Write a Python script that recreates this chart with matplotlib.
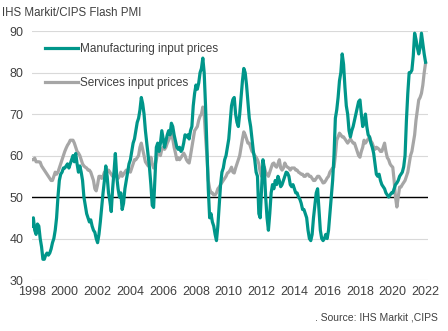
import numpy as np
import matplotlib.pyplot as plt

plt.rcParams['font.family'] = ['Liberation Sans', 'DejaVu Sans']

# monthly values, Jan 1998 .. Jan 2022
manufacturing = [
    43, 45, 42, 41, 43.5, 43, 40, 38, 35, 35, 36, 36.5,          # 1998
    36, 36.5, 37.5, 39, 40, 42, 45, 50, 54, 55.5, 56, 57,        # 1999
    57, 57.5, 58, 57, 58, 59, 60, 58.5, 60.5, 58, 56, 57.5,      # 2000
    56, 54, 50, 48, 46, 45, 44, 44.5, 43, 42, 41.5, 40,          # 2001
    39, 41, 44, 47.5, 51, 54, 57.5, 55, 51, 49, 46.5, 52,        # 2002
    56, 60.5, 55, 52, 50, 51, 47, 48.5, 52, 54, 56, 58,          # 2003
    59, 61, 63, 64, 66, 68, 69, 71, 74, 72.5, 70, 66,            # 2004
    63, 60, 57, 53, 48, 47.5, 55, 62, 63, 61, 63, 66,            # 2005
    64, 62, 63.5, 65, 66, 65, 67.8, 67, 65, 63.5, 62, 61.5,      # 2006
    62, 61, 61.5, 63, 65, 64.5, 65, 64, 66, 67, 72, 75,          # 2007
    77, 76, 77.5, 80, 81, 83.5, 80, 72, 62, 52, 45, 46,          # 2008
    44, 43, 41, 39.5, 43, 48, 53, 56, 57, 59, 60, 62,            # 2009
    64, 68, 72, 73.5, 74, 70, 68, 67, 70, 74, 78, 81,            # 2010
    80, 77, 73, 69, 67, 64, 61, 59, 56, 55, 46, 45,              # 2011
    52, 59, 57, 50, 45, 42, 46, 51, 53, 52, 54, 53,              # 2012
    55, 54, 52.5, 53, 54, 55, 56, 55.8, 55, 53, 52.5, 53,        # 2013
    52, 51, 51, 50, 49.5, 48.5, 47, 47, 46, 45, 42, 40,          # 2014
    39.5, 41, 45, 48, 51, 52, 47, 42, 40, 39.5, 40, 41,          # 2015
    40, 42, 46, 50, 54, 60, 69, 71, 74, 78, 80, 84.5,            # 2016
    82, 76.5, 72, 70, 66, 64.5, 66, 67, 68.5, 70, 71.5, 73,      # 2017
    73.4, 70, 67, 68, 70, 67, 65, 64.5, 63, 62, 60.6, 58,        # 2018
    55.5, 55, 55.5, 54, 53, 52.5, 52, 51, 50.5, 50, 50.5, 51,    # 2019
    51, 52, 53, 53.4, 54, 55, 55.5, 56, 57.3, 60, 68.5, 75,      # 2020
    80, 80, 80.6, 84, 89.5, 88, 86, 84.5, 86, 89.5, 87, 84.5,    # 2021
    82.5,                                                        # 2022
]
services = [
    59, 59, 59.4, 58.5, 58.5, 58.5, 58.4, 57.5, 57, 56.5, 56, 55.5,   # 1998
    55, 54.5, 54, 54, 55, 56, 55.5, 56, 57, 58, 59, 60,               # 1999
    61, 61.8, 62.5, 63, 63.7, 63.7, 63.7, 63, 62, 61, 60.6, 60,       # 2000
    59, 58, 57.5, 57.2, 57, 56.5, 56.5, 56, 55, 54, 52, 51.5,         # 2001
    53, 55, 55, 54.5, 55, 56, 55.5, 56, 56.5, 56, 55.5, 55,           # 2002
    55.5, 56, 55, 54.5, 55, 56, 55, 55.5, 56, 56.5, 56, 56.5,         # 2003
    56, 57, 58, 59, 59, 59.5, 60, 62, 63, 61.5, 60, 58.5,             # 2004
    58, 57.5, 58, 59.6, 58, 57, 57.5, 59, 61, 61, 60, 61.5,           # 2005
    62, 61.5, 62, 63, 63.7, 64.5, 66, 64, 62, 60.6, 59, 59.5,         # 2006
    59, 59.5, 60, 60.6, 60, 59, 58.5, 58.2, 60, 62, 64, 66,           # 2007
    66.5, 67, 68.5, 69.5, 70, 71.7, 70, 64.5, 60, 54, 52, 51,         # 2008
    51, 50.5, 50.5, 51, 52, 52.4, 53, 53.5, 54, 54.5, 55, 55.8,       # 2009
    56, 56.5, 57.2, 56, 55.8, 57, 58, 59, 60, 62, 64, 65.7,           # 2010
    65, 64, 63, 63, 62, 61, 60.6, 60, 59.6, 59, 58, 56,               # 2011
    55, 57, 57.2, 56, 55.5, 55, 56, 57, 58, 58.2, 57.5, 57.2,         # 2012
    58, 59, 57, 56.5, 57, 58.2, 57.5, 57.2, 57, 56.5, 57, 57,         # 2013
    57, 56.5, 56.5, 56, 55.8, 55.5, 55.5, 55, 55, 55.5, 55.5, 55,     # 2014
    55, 54.5, 54, 54, 54.5, 55, 55, 54.5, 54, 53.4, 53.5, 54,         # 2015
    54.6, 55, 56, 56.5, 57, 57.2, 60, 63.7, 64.5, 65.4, 65, 64.5,     # 2016
    64.5, 64, 63.5, 63, 63.5, 64, 63.5, 63, 63, 62, 61, 60,           # 2017
    59.6, 61, 62, 63.7, 63, 63.5, 64, 64.5, 63.5, 63, 62, 61.5,       # 2018
    62, 61.8, 61.5, 61, 61, 62, 63, 61, 59.5, 59, 58, 57.5,           # 2019
    57.2, 54, 50, 47.6, 50, 52.4, 52.4, 53, 53.5, 54, 55, 56,         # 2020
    58, 60, 61, 63, 65, 68.5, 71, 73.4, 74, 75, 77, 80,               # 2021
    82.3,                                                             # 2022
]
years = np.arange(1998, 2023, 2)

t = 1998 + np.arange(len(manufacturing)) / 12

fig = plt.figure(figsize=(4.48, 3.31), dpi=100)
ax = fig.add_axes([0.0714, 0.154, 0.884, 0.752])

ax.plot(t, services, color='#a6a6a6', lw=2.3, label='Services input prices')
ax.plot(t, manufacturing, color='#00968a', lw=2.3, label='Manufacturing input prices')
ax.axhline(50, color='black', lw=1.0, zorder=1)

ax.set_ylim(30, 90)
ax.set_xlim(1998, 2022.15)
ax.set_yticks(range(30, 91, 10))
ax.set_xticks(years)
ax.set_xticklabels([str(y) for y in years])
ax.grid(axis='y', color='#d9d9d9', lw=0.8)
ax.set_axisbelow(True)
for s in ax.spines.values():
    s.set_visible(False)
ax.tick_params(length=0, labelsize=9, colors='#404040', pad=4)
ax.tick_params(axis='y', pad=6)

h, l = ax.get_legend_handles_labels()
ax.legend(h[::-1], l[::-1], loc='upper left', bbox_to_anchor=(0.033, 0.953),
          borderpad=0, borderaxespad=0,
          frameon=False, fontsize=8.5, handlelength=2.8, labelspacing=1.85,
          handletextpad=0.15, labelcolor='#404040')

fig.text(0.005, 0.952, 'IHS Markit/CIPS Flash PMI', fontsize=8.3, color='#404040')
fig.text(0.978, 0.032, '. Source: IHS Markit ,CIPS', fontsize=7.5, color='#404040', ha='right')

fig.savefig('out.png', dpi=100)
